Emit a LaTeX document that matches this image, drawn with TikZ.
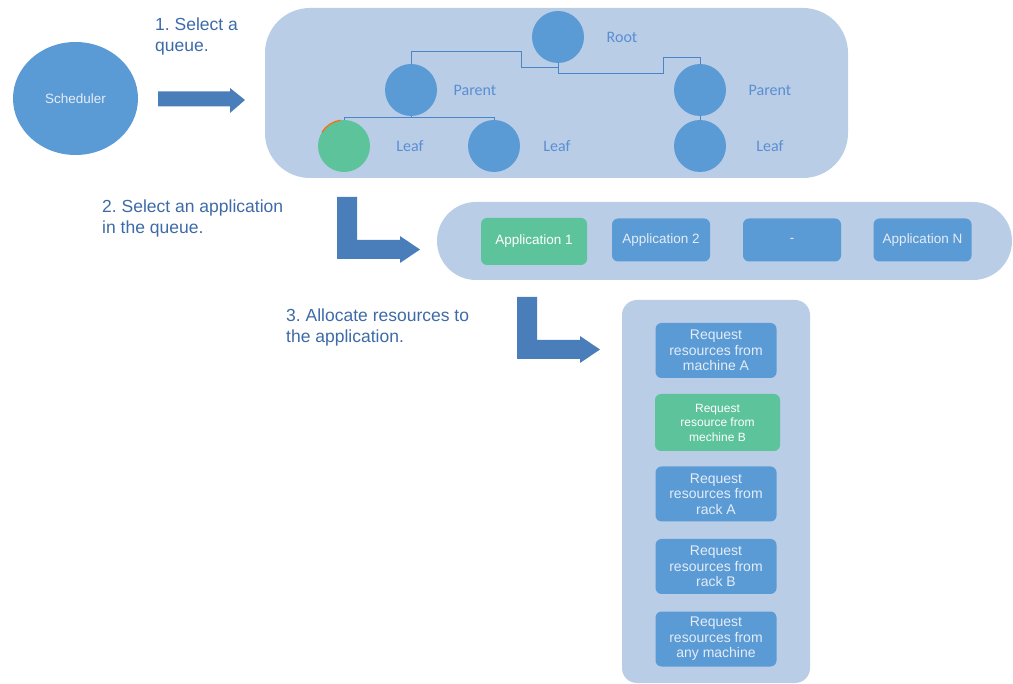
\documentclass[tikz,border=0pt]{standalone}
\usepackage{fontspec}
\setmainfont{Liberation Sans}
\newfontfamily\calib{Carlito}
\usetikzlibrary{calc,shapes.geometric}
\frenchspacing

\definecolor{nodeblue}{HTML}{5B9BD5}
\definecolor{panel}{HTML}{B9CDE7}
\definecolor{arrowblue}{HTML}{4A7EBB}
\definecolor{steptext}{HTML}{3D6AA8}
\definecolor{treetext}{HTML}{5A8ED2}
\definecolor{pickgreen}{HTML}{5CC39B}
\definecolor{linkblue}{HTML}{4C84C8}
\definecolor{boxtext}{HTML}{E4ECF7}

\tikzset{
  panelbox/.style={fill=panel, draw=none, inner sep=0},
  qnode/.style={circle, fill=nodeblue, minimum size=52pt, inner sep=0},
  qpick/.style={qnode, fill=pickgreen},
  qlabel/.style={text=treetext, font=\calib\fontsize{16}{18}\selectfont},
  link/.style={draw=linkblue, line width=1pt},
  appbox/.style={fill=nodeblue, rounded corners=6pt, minimum width=98pt,
    minimum height=43pt, inner sep=0, text=boxtext,
    font=\fontsize{13.5}{15}\selectfont},
  apppick/.style={appbox, fill=pickgreen, minimum width=106pt,
    minimum height=47pt, text=white},
  resbox/.style={fill=nodeblue, rounded corners=6pt, minimum width=121pt,
    minimum height=55pt, inner sep=0, align=center, text=boxtext,
    font=\fontsize{14}{15.5}\selectfont},
  respick/.style={resbox, fill=pickgreen, minimum width=125pt,
    minimum height=57pt, text=white, font=\fontsize{12}{14.5}\selectfont},
  steplabel/.style={text=steptext, align=left, anchor=north west,
    inner sep=0, font=\fontsize{17.5}{21}\selectfont},
  bigarrow/.style={fill=arrowblue, draw=none}
}

\begin{document}
\begin{tikzpicture}[x=1pt,y=-1pt]
\useasboundingbox (0,0) rectangle (1013,684);

% --- containers ---
\node[panelbox, rounded corners=45pt, minimum width=583pt, minimum height=170pt] (queues) at (556.5,93) {};
\node[panelbox, rounded corners=39pt, minimum width=575pt, minimum height=78pt] (apps) at (724.5,241) {};
\node[panelbox, rounded corners=15pt, minimum width=188pt, minimum height=383pt] (reqs) at (716,491.5) {};

% --- scheduler ---
\node[ellipse, fill=nodeblue, minimum width=125pt, minimum height=113pt, inner sep=0,
      text=boxtext, font=\fontsize{13.5}{15}\selectfont] (sched) at (75.5,98.5) {Scheduler};

% --- step labels ---
\node[steplabel] (s1) at (155,18) {1. Select a\\queue.};
\node[steplabel] (s2) at (102,200) {2. Select an application\\in the queue.};
\node[steplabel] (s3) at (286,309) {3. Allocate resources to\\the application.};

% --- block arrows ---
\path[bigarrow] (158,91.5) -- (230,91.5) -- (230,88) -- (245,100) -- (230,113)
  -- (230,106.5) -- (158,106.5) -- cycle;
\foreach \dx/\dy in {0/0, 180/100} {
  \path[bigarrow, shift={(\dx,\dy)}] (337,197) -- (357,197) -- (357,240) -- (400,240)
    -- (400,236) -- (420,249.5) -- (400,263) -- (400,259) -- (337,259) -- cycle;
}

% --- queue tree ---
\node[qnode] (root) at (558,37) {};
\node[qnode] (p1) at (411,90) {};
\node[qnode] (p2) at (700,90) {};
\node[qpick] (leaf1) at (344,146) {};
\node[qnode] (leaf2) at (494,146) {};
\node[qnode] (leaf3) at (700,146) {};
\draw[orange!85!red, line width=1.2pt] ($(leaf1)+(212:26)$) arc[start angle=212, end angle=262, radius=26];

\node[qlabel] (lroot) at (622,37) {Root};
\node[qlabel] (lp1) at (475,90) {Parent};
\node[qlabel] (lp2) at (770,90) {Parent};
\node[qlabel] (ll1) at (410,146) {Leaf};
\node[qlabel] (ll2) at (557,146) {Leaf};
\node[qlabel] (ll3) at (770,146) {Leaf};

\coordinate (j1) at (521,52);
\coordinate (j2) at (558,68);
\coordinate (j3) at (663,74);
\coordinate (j4) at (700,58);
\coordinate (j5) at (411,118);
\coordinate (j6) at (494,118);
\draw[link] (p1.north) |- (j1) |- (j2);
\draw[link] (root.south) |- (j3) |- (j4) -- (p2.north);
\draw[link] (p1.south) -- (j5);
\draw[link] (leaf1.north) |- (j6) -- (leaf2.north);
\draw[link] (p2.south) -- (leaf3.north);

% --- applications ---
\node[apppick] (a1) at (534,241.5) {Application 1};
\node[appbox] (a2) at (661,240) {Application 2};
\node[appbox] (a3) at (792,240) {\raisebox{-1.5pt}{-}};
\node[appbox] (a4) at (922.5,240) {Application N};

% --- resource requests ---
\node[resbox] (r1) at (716,350.5) {Request\\resources from\\machine A};
\node[respick] (r2) at (717.5,422.5) {Request\\resource from\\mechine B};
\node[resbox] (r3) at (716,494) {Request\\resources from\\rack A};
\node[resbox] (r4) at (716,566.5) {Request\\resources from\\rack B};
\node[resbox] (r5) at (716,639) {Request\\resources from\\any machine};
\end{tikzpicture}
\end{document}
